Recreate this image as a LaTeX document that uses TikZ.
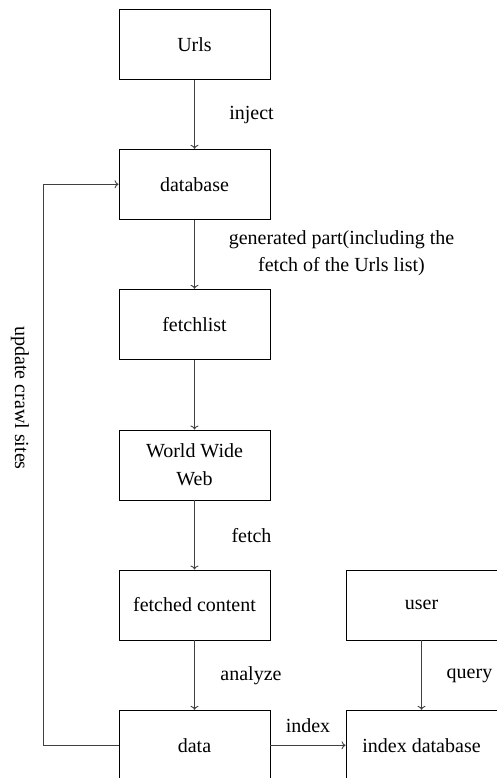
\documentclass[tikz,border=0pt]{standalone}
\usepackage{fontspec}
\setmainfont{Liberation Serif}
\usetikzlibrary{arrows.meta}
\begin{document}
\begin{tikzpicture}[x=1pt,y=-1pt,
  box/.style={draw=black, line width=0.9pt, minimum width=151pt, minimum height=70pt, inner sep=0pt, align=center, font=\fontsize{20}{28}\selectfont},
  lbl/.style={inner sep=0pt, align=center, font=\fontsize{20}{27}\selectfont},
  conn/.style={draw=black!75, line width=0.9pt, -{To[length=4pt,width=8pt]}}]
\useasboundingbox (0,0) rectangle (497,778);
\clip (0,0) rectangle (497,778);
\node[box] (urls) at (194.5,44.3) {Urls};
\node[box] (db) at (194.5,184.3) {database};
\node[box] (fl) at (194.5,324.3) {fetchlist};
\node[box] (www) at (194.5,465) {World Wide\\Web};
\node[box] (fc) at (194.5,605) {fetched content};
\node[box] (data) at (194.5,745.3) {data};
\node[box] (user) at (421.5,605) {user};
\node[box] (idx) at (421.5,745.3) {index database};
\coordinate (cb) at (43.3,745.3);
\coordinate (ct) at (43.3,184.3);
\draw[conn] (urls) -- (db);
\draw[conn] (db) -- (fl);
\draw[conn] (fl) -- (www);
\draw[conn] (www) -- (fc);
\draw[conn] (fc) -- (data);
\draw[conn] (user) -- (idx);
\draw[conn] (data) -- (idx);
\draw[conn] (data.west) -- (cb) -- (ct) -- (db.west);
\node[lbl] (linject) at (251.5,115) {inject};
\node[lbl] (lgen) at (341.5,253.5) {generated part(including the\\fetch of the Urls list)};
\node[lbl] (lfetch) at (251.5,536) {fetch};
\node[lbl] (lanalyze) at (251,676) {analyze};
\node[lbl] (lquery) at (469.5,676) {query};
\node[lbl] (lindex) at (308,726) {index};
\node[lbl, rotate=-90] (lupdate) at (20,398) {update crawl sites};
\end{tikzpicture}
\end{document}
